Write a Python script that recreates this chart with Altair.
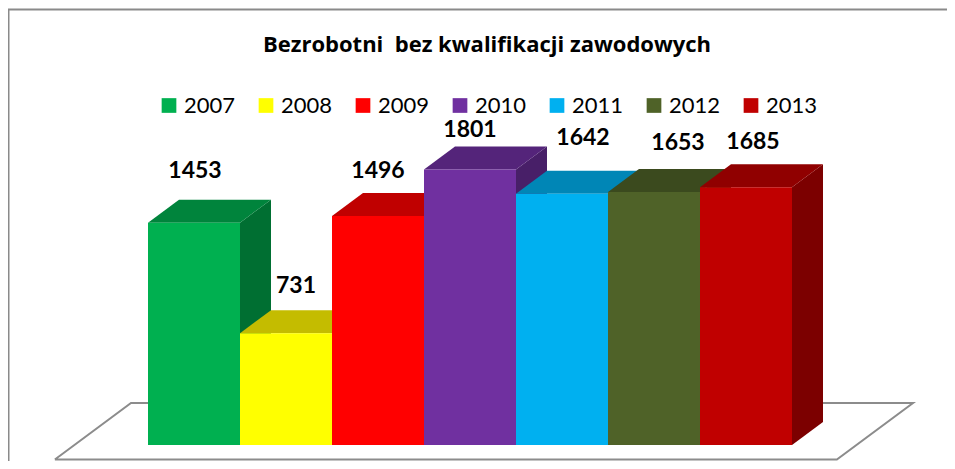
import altair as alt
import pandas as pd

# ---- data ----
YEARS = ["2007", "2008", "2009", "2010", "2011", "2012", "2013"]
VALUES = [1453, 731, 1496, 1801, 1642, 1653, 1685]
TITLE = "Bezrobotni\u00a0 bez kwalifikacji zawodowych"

# ---- styles ----
FRONT = ["#00B050", "#FFFF00", "#FF0000", "#7030A0", "#00B0F0", "#4F6228", "#C00000"]
TOP = ["#00843C", "#C4BC00", "#C00000", "#54247A", "#0086B6", "#3B4A1E", "#900000"]
SIDE = ["#006F32", "#A8A200", "#A00000", "#481F68", "#00739C", "#33401A", "#7C0000"]
FONT = "Lato"
TITLE_FONT = "Open Sans"

# ---- layout ----
W, H = 939, 453
PX_PER_UNIT = 0.153      # vertical pixels per value unit
BASE_Y = 437             # pixel row of value 0
BAR_PX = 92              # pixel width of one bar
BAR0_X = 140             # pixel column of first bar
DX = 31 / BAR_PX         # 3D depth, horizontal (in bar units)
DY = 23 / PX_PER_UNIT    # 3D depth, vertical (in value units)
LABEL_DX_PX = [1, 10, 0, 0, 21, 24, 7]
LABEL_DY_PX = [44.4, 39.7, 37.7, 32.7, 48.7, 41.7, 37.7]
FLOOR_X = (-0.80, 7.70)
FLOOR_Z = (-0.63, 1.826)

xs = alt.Scale(domain=[-BAR0_X / BAR_PX, (W - BAR0_X) / BAR_PX], nice=False, zero=False)
ys = alt.Scale(domain=[(BASE_Y - H) / PX_PER_UNIT, BASE_Y / PX_PER_UNIT], nice=False, zero=False)

front_rows, top_rows, side_rows, label_rows = [], [], [], []
for i, (yr, v) in enumerate(zip(YEARS, VALUES)):
    front_rows.append(dict(year=yr, x=i, x2=i + 1, y=0, y2=v))
    for x, lo, hi in [(i, v, v), (i + DX, v, v + DY), (i + 1, v, v + DY), (i + 1 + DX, v + DY, v + DY)]:
        top_rows.append(dict(year=yr, x=x, lo=lo, hi=hi, c=TOP[i]))
    for x, lo, hi in [(i + 1, 0, v), (i + 1 + DX, DY, v + DY)]:
        side_rows.append(dict(year=yr, x=x, lo=lo, hi=hi, c=SIDE[i]))
    label_rows.append(dict(year=yr, x=i + 0.5 + LABEL_DX_PX[i] / BAR_PX,
                           y=v + LABEL_DY_PX[i] / PX_PER_UNIT, t=str(v)))

fz, bz = FLOOR_Z
fx0, fx1 = FLOOR_X
floor_pts = [(fx0 + fz * DX, fz * DY), (fx1 + fz * DX, fz * DY), (fx1 + bz * DX, bz * DY),
             (fx0 + bz * DX, bz * DY), (fx0 + fz * DX, fz * DY)]
floor_df = pd.DataFrame([dict(o=k, x=p[0], y=p[1]) for k, p in enumerate(floor_pts)])

front_df = pd.DataFrame(front_rows)
top_df = pd.DataFrame(top_rows)
side_df = pd.DataFrame(side_rows)
label_df = pd.DataFrame(label_rows)
one = pd.DataFrame({"a": [0]})

frame_top = alt.Chart(one).mark_rule(color="#8a8a8a", strokeWidth=2).encode(
    x=alt.value(0), x2=alt.value(W), y=alt.value(1.5), y2=alt.value(1.5))
frame_left = alt.Chart(one).mark_rule(color="#8a8a8a", strokeWidth=2).encode(
    x=alt.value(0.5), x2=alt.value(0.5), y=alt.value(1.5), y2=alt.value(H))

floor = alt.Chart(floor_df).mark_line(color="#8c8c8c", strokeWidth=2).encode(
    x=alt.X("x:Q", scale=xs, axis=None),
    y=alt.Y("y:Q", scale=ys, axis=None),
    order="o:Q")

sides = alt.Chart(side_df).mark_area(orient="vertical", interpolate="linear").encode(
    x=alt.X("x:Q", scale=xs, axis=None),
    y=alt.Y("lo:Q", scale=ys, axis=None), y2="hi:Q",
    fill=alt.Fill("c:N", scale=None), detail="year:N")

tops = alt.Chart(top_df).mark_area(orient="vertical", interpolate="linear").encode(
    x=alt.X("x:Q", scale=xs, axis=None),
    y=alt.Y("lo:Q", scale=ys, axis=None), y2="hi:Q",
    fill=alt.Fill("c:N", scale=None), detail="year:N")

fronts = alt.Chart(front_df).mark_rect().encode(
    x=alt.X("x:Q", scale=xs, axis=None), x2="x2:Q",
    y=alt.Y("y:Q", scale=ys, axis=None), y2="y2:Q",
    color=alt.Color("year:N", scale=alt.Scale(domain=YEARS, range=FRONT),
                    legend=alt.Legend(orient="none", legendX=150, legendY=86.5, direction="horizontal",
                                      title=None, symbolType="square", symbolSize=216,
                                      symbolStrokeWidth=0, symbolOpacity=1,
                                      labelFont=FONT, labelFontSize=22, labelColor="#000000",
                                      labelOffset=4, columnPadding=19, padding=0)))

labels = alt.Chart(label_df).mark_text(font=FONT, fontSize=23, fontWeight="bold", color="#000000",
                                       align="center", baseline="alphabetic").encode(
    x=alt.X("x:Q", scale=xs, axis=None),
    y=alt.Y("y:Q", scale=ys, axis=None),
    text="t:N")

title = alt.Chart(one).mark_text(font=TITLE_FONT, fontSize=22, fontWeight="bold", color="#000000",
                                 align="center", baseline="alphabetic").encode(
    x=alt.value(479), y=alt.value(43.7), text=alt.value(TITLE))

chart = alt.layer(frame_top, frame_left, floor, sides, tops, fronts, labels, title).properties(
    width=W, height=H, padding=0, autosize="none", background="white"
).configure_view(stroke=None)

chart.save("out.html", embed_options={"renderer": "svg", "actions": False})
